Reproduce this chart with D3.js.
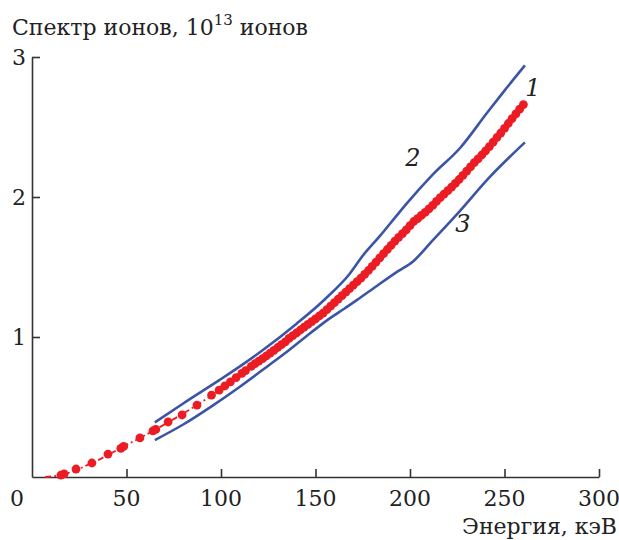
<!DOCTYPE html>
<html><head><meta charset="utf-8">
<script src="https://cdn.jsdelivr.net/npm/d3@7"></script>
<style>body{margin:0;background:#fff}svg{display:block}</style>
</head><body><div id="c"></div>
<script>
// Curve 1 (red dots), energy keV and spectrum value
const redE = [15.3,17,23.3,31.7,40.2,47,48.5,57.1,64,65.5,72,79.4,87.3,95,99,102,105,108,111,113,116,118,120,122,124,126,128,130,132,134,136,138,140,142,144,146,148,150,152,154,156,158,160,162,164,166,168,170,172,174,176,178,180,182,184,186,188,190,192,194,196,198,200,202,204,206,208,210,212,214,216,218,220,222,224,226,228,230,232,234,236,238,240,242,244,246,248,250,252,254,256,258,260];
const redV = [0.014,0.022,0.057,0.10,0.164,0.205,0.218,0.279,0.329,0.34,0.393,0.443,0.514,0.585,0.62,0.65,0.68,0.71,0.74,0.76,0.79,0.81,0.828,0.845,0.865,0.885,0.905,0.925,0.945,0.965,0.99,1.01,1.03,1.05,1.07,1.09,1.11,1.13,1.15,1.17,1.195,1.22,1.245,1.27,1.295,1.32,1.345,1.37,1.395,1.42,1.447,1.475,1.505,1.535,1.565,1.595,1.625,1.655,1.685,1.712,1.738,1.765,1.795,1.825,1.845,1.868,1.89,1.915,1.94,1.968,1.995,2.02,2.045,2.07,2.097,2.125,2.155,2.185,2.215,2.245,2.272,2.30,2.33,2.36,2.392,2.425,2.457,2.49,2.525,2.56,2.593,2.627,2.66];
// dash-dot guide line under the dots
const redLineE = [7,15.3,31.7,48.5,64,87.3,130,177,204,242,260];
const redLineV = [0,0.014,0.10,0.218,0.329,0.514,0.925,1.46,1.845,2.36,2.66];
// Curve 2 (upper blue)
const upE = [65,80,99.5,110,122,140,155,168,175,184,193.7,197.4,212,226.5,240.7,250,260.8];
const upV = [0.39,0.525,0.695,0.79,0.905,1.095,1.27,1.45,1.58,1.72,1.88,1.94,2.16,2.35,2.60,2.76,2.94];
// Curve 3 (lower blue)
const loE = [65,80,95,110,125,135.4,147,157.7,165,172,183,193.7,201.6,212,225.4,242,260.8];
const loV = [0.264,0.375,0.505,0.645,0.795,0.9,1.025,1.135,1.2,1.265,1.37,1.47,1.54,1.69,1.885,2.14,2.39];
const xTicks = [0,50,100,150,200,250,300];
const yTicks = [0,1,2,3];
const curveLabels = [{t:"1",E:265,v:2.72},{t:"2",E:201.5,v:2.22},{t:"3",E:228,v:1.75}];

const FONT='DejaVu Serif';
const W=619,H=540;
const svg=d3.select("#c").append("svg").attr("width",W).attr("height",H)
  .attr("font-family",FONT);
const x=d3.scaleLinear().domain([0,300]).range([32,599]);
const y=d3.scaleLinear().domain([0,3]).range([477,57]);
const axisCol="#333";

// axes
const gx=svg.append("g").attr("transform","translate(0,477)")
  .call(d3.axisBottom(x).tickValues(xTicks.slice(1)).tickSizeInner(-8).tickSizeOuter(0).tickFormat(""));
const gy=svg.append("g").attr("transform","translate(32,0)")
  .call(d3.axisLeft(y).tickValues(yTicks.slice(1)).tickSizeInner(-8).tickSizeOuter(0).tickFormat(""));
[gx,gy].forEach(g=>{g.selectAll("path,line").attr("stroke",axisCol).attr("stroke-width",1.6);});

function txt(sel){return sel.attr("font-family",FONT).attr("fill","#222");}
// tick labels
txt(svg.append("g").selectAll("text").data(xTicks).join("text"))
  .attr("x",d=>d===0?17:x(d)).attr("y",506).attr("text-anchor","middle")
  .attr("font-size",22).text(d=>d);
txt(svg.append("g").selectAll("text").data(yTicks.slice(1)).join("text"))
  .attr("x",26).attr("y",d=>y(d)+8).attr("text-anchor","end")
  .attr("font-size",22).text(d=>d);

// titles
const tt=txt(svg.append("text")).attr("x",12).attr("y",35).attr("font-size",22);
tt.append("tspan").text("Спектр ионов, 10");
tt.append("tspan").attr("dy",-10).attr("font-size",15).text("13");
tt.append("tspan").attr("dy",10).text(" ионов");
txt(svg.append("text")).attr("x",617).attr("y",534).attr("text-anchor","end").attr("font-size",22).text("Энергия, кэВ");

const line=d3.line().x(d=>x(d[0])).y(d=>y(d[1])).curve(d3.curveMonotoneX);
const blue="#3b54a5";
svg.append("path").datum(upE.map((e,i)=>[e,upV[i]])).attr("d",line)
  .attr("fill","none").attr("stroke",blue).attr("stroke-width",2.6);
svg.append("path").datum(loE.map((e,i)=>[e,loV[i]])).attr("d",line)
  .attr("fill","none").attr("stroke",blue).attr("stroke-width",2.6);

const red="#ec1c24";
svg.append("path").datum(redLineE.map((e,i)=>[e,redLineV[i]])).attr("d",line)
  .attr("fill","none").attr("stroke",red).attr("stroke-width",1.8).attr("stroke-dasharray","6,3,2,3");
svg.append("g").selectAll("circle").data(redE.map((e,i)=>[e,redV[i]])).join("circle")
  .attr("cx",d=>x(d[0])).attr("cy",d=>y(d[1])).attr("r",4.4).attr("fill",red);

txt(svg.append("g").selectAll("text").data(curveLabels).join("text"))
  .attr("x",d=>x(d.E)).attr("y",d=>y(d.v)).attr("text-anchor","middle")
  .attr("font-size",24).attr("font-style","italic").text(d=>d.t);
</script></body></html>
